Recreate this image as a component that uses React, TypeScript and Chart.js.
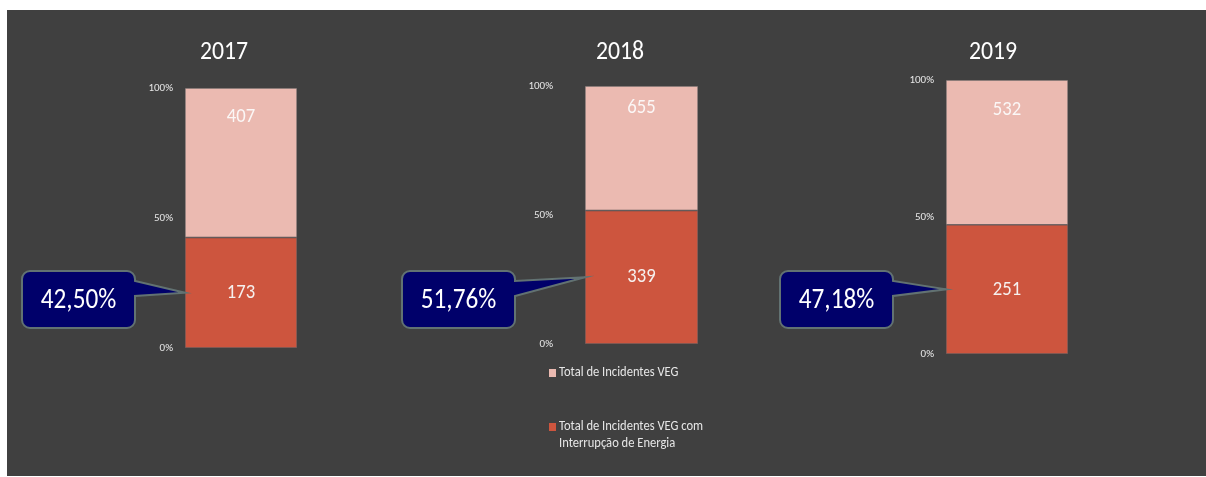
import React, { useEffect, useRef } from 'react';
import { Chart, registerables } from 'chart.js';

Chart.register(...registerables);

// ---------- data ----------
const years = ['2017', '2018', '2019'];
const totalIncidents = [407, 655, 532];
const incidentsWithInterruption = [173, 339, 251];
const shareLabels = ['42,50%', '51,76%', '47,18%'];
const yTickLabels = ['0%', '50%', '100%'];
const seriesNames = [
  'Total de Incidentes VEG',
  'Total de Incidentes VEG com Interrupção de Energia',
];

// ---------- styles / layout ----------
const W = 1206;
const H = 477;
const FONT = 'Calibri, Carlito, Lato, "Noto Sans", sans-serif';
const BG = '#404040';
const PINK = '#ebbab1';
const RED = '#cd553e';
const NAVY = '#00006a';
const CALLOUT_BORDER = '#627272';
const Y_AXIS_W = 80;

const layouts = [
  { barL: 185, barR: 297, barT: 88, barB: 348, tickPad: 12, titleX: 224, titleY: 52, topLabelOffset: 29, box: { x: 22, y: 271, w: 113, h: 57 } },
  { barL: 585, barR: 698, barT: 86, barB: 344, tickPad: 32, titleX: 620, titleY: 52, topLabelOffset: 22, box: { x: 402, y: 271, w: 113, h: 57 } },
  { barL: 946, barR: 1068, barT: 80, barB: 354, tickPad: 12, titleX: 993, titleY: 52, topLabelOffset: 30, box: { x: 780, y: 271, w: 113, h: 57 } },
];
const legendLayout = { x: 549, y: 373, gap: 54, lineH: 17, maxW: 160 };

function drawText(
  ctx: CanvasRenderingContext2D,
  text: string,
  x: number,
  y: number,
  size: number,
  color: string,
  sx = 0.8,
  align: CanvasTextAlign = 'center'
) {
  ctx.save();
  ctx.translate(x, y);
  ctx.scale(sx, 1);
  ctx.font = `${size}px ${FONT}`;
  ctx.fillStyle = color;
  ctx.textAlign = align;
  ctx.textBaseline = 'middle';
  ctx.fillText(text, 0, 0);
  ctx.restore();
}

function wrapText(ctx: CanvasRenderingContext2D, text: string, size: number, sx: number, maxW: number) {
  ctx.save();
  ctx.font = `${size}px ${FONT}`;
  const words = text.split(' ');
  const lines: string[] = [];
  let cur = '';
  for (const w of words) {
    const test = cur ? cur + ' ' + w : w;
    if (ctx.measureText(test).width * sx > maxW && cur) {
      lines.push(cur);
      cur = w;
    } else {
      cur = test;
    }
  }
  if (cur) lines.push(cur);
  ctx.restore();
  return lines;
}

function makeOverlay(i: number) {
  return {
    id: 'overlay' + i,
    afterDatasetsDraw(chart: any) {
      const ctx: CanvasRenderingContext2D = chart.ctx;
      const L = layouts[i];
      const red = chart.getDatasetMeta(0).data[0].getProps(['x', 'y', 'base', 'width'], true);
      const pink = chart.getDatasetMeta(1).data[0].getProps(['x', 'y', 'base', 'width'], true);

      // title
      drawText(ctx, years[i], L.titleX, L.titleY, 27, '#ffffff', 0.88);

      // data labels
      drawText(ctx, String(incidentsWithInterruption[i]), red.x, (red.y + red.base) / 2, 21, '#f6f0ee', 0.89);
      drawText(ctx, String(totalIncidents[i]), pink.x, pink.y + L.topLabelOffset, 21, '#fbf7f6', 0.89);

      // callout
      const b = L.box;
      const r = 8;
      const tipX = red.x - red.width / 2;
      const tipY = (red.y + red.base) / 2;
      const w1 = b.y + 10;
      const w2 = b.y + 25;
      ctx.save();
      ctx.beginPath();
      ctx.moveTo(b.x + r, b.y);
      ctx.lineTo(b.x + b.w - r, b.y);
      ctx.arcTo(b.x + b.w, b.y, b.x + b.w, b.y + r, r);
      ctx.lineTo(b.x + b.w, w1);
      ctx.lineTo(tipX, tipY);
      ctx.lineTo(b.x + b.w, w2);
      ctx.lineTo(b.x + b.w, b.y + b.h - r);
      ctx.arcTo(b.x + b.w, b.y + b.h, b.x + b.w - r, b.y + b.h, r);
      ctx.lineTo(b.x + r, b.y + b.h);
      ctx.arcTo(b.x, b.y + b.h, b.x, b.y + b.h - r, r);
      ctx.lineTo(b.x, b.y + r);
      ctx.arcTo(b.x, b.y, b.x + r, b.y, r);
      ctx.closePath();
      ctx.fillStyle = NAVY;
      ctx.fill();
      ctx.lineWidth = 2;
      ctx.strokeStyle = CALLOUT_BORDER;
      ctx.stroke();
      ctx.restore();
      drawText(ctx, shareLabels[i], b.x + b.w / 2, b.y + b.h / 2 + 1, 29, '#ffffff', 0.87);

      // legend (drawn once, on the middle chart)
      if (i === 1) {
        const order = [1, 0];
        order.forEach((dsIdx, k) => {
          const ds = chart.data.datasets[dsIdx];
          const y0 = legendLayout.y + k * legendLayout.gap;
          ctx.save();
          ctx.fillStyle = ds.backgroundColor;
          ctx.fillRect(legendLayout.x, y0 - 4, 7, 8);
          ctx.restore();
          const lines = wrapText(ctx, ds.label, 13.5, 0.93, legendLayout.maxW);
          lines.forEach((ln, j) => {
            drawText(ctx, ln, legendLayout.x + 10, y0 + j * legendLayout.lineH, 13.5, '#e6e6e6', 0.93, 'left');
          });
        });
      }
    },
  };
}

export default function App() {
  const refs = [useRef<HTMLCanvasElement>(null), useRef<HTMLCanvasElement>(null), useRef<HTMLCanvasElement>(null)];

  useEffect(() => {
    const charts: Chart[] = [];
    layouts.forEach((L, i) => {
      const canvas = refs[i].current;
      if (!canvas) return;
      const share = incidentsWithInterruption[i] / totalIncidents[i];
      const chart = new Chart(canvas, {
        type: 'bar',
        data: {
          labels: [years[i]],
          datasets: [
            {
              label: seriesNames[1],
              data: [share],
              backgroundColor: RED,
              borderColor: 'rgba(120,100,100,0.7)',
              borderWidth: 1,
              borderSkipped: false,
              barPercentage: 1,
              categoryPercentage: 1,
            },
            {
              label: seriesNames[0],
              data: [1 - share],
              backgroundColor: PINK,
              borderColor: 'rgba(130,120,120,0.7)',
              borderWidth: 1,
              borderSkipped: false,
              barPercentage: 1,
              categoryPercentage: 1,
            },
          ],
        },
        options: {
          responsive: false,
          animation: false,
          layout: {
            padding: {
              left: L.barL - Y_AXIS_W,
              right: W - L.barR,
              top: L.barT,
              bottom: H - L.barB,
            },
          },
          plugins: {
            legend: { display: false },
            title: { display: false },
            tooltip: { enabled: false },
          },
          scales: {
            x: { stacked: true, display: false },
            y: {
              stacked: true,
              min: 0,
              max: 1,
              grid: { display: false, drawTicks: false, tickLength: 0 },
              border: { display: false },
              ticks: {
                stepSize: 0.5,
                padding: L.tickPad,
                color: '#e8e8e8',
                font: { size: 11, family: FONT },
                callback: (v: any) => yTickLabels[Math.round(Number(v) * 2)] ?? '',
              },
              afterFit: (s: any) => {
                s.width = Y_AXIS_W;
              },
            },
          },
        } as any,
        plugins: [makeOverlay(i)],
      });
      charts.push(chart);
    });
    return () => charts.forEach((c) => c.destroy());
  }, []);

  return (
    <div style={{ position: 'absolute', left: 0, top: 0, width: W, height: H, background: '#ffffff', overflow: 'hidden' }}>
      <div style={{ position: 'absolute', left: 7, top: 10, width: W - 7, height: H - 11, background: BG }} />
      {refs.map((r, i) => (
        <canvas key={i} ref={r} width={W} height={H} style={{ position: 'absolute', left: 0, top: 0, width: W, height: H }} />
      ))}
    </div>
  );
}
